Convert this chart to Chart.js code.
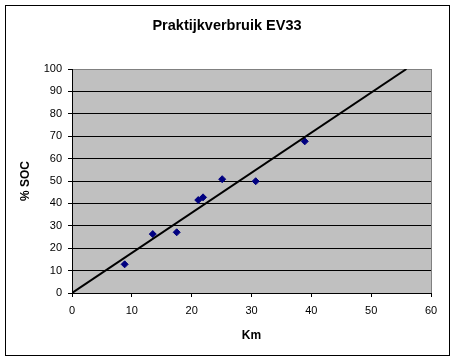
<!DOCTYPE html>
<html><head><meta charset="utf-8">
<script src="https://cdn.jsdelivr.net/npm/chart.js@4/dist/chart.umd.min.js"></script>
<style>html,body{margin:0;padding:0;background:#fff}#wrap{width:455px;height:362px;position:relative}</style>
</head><body><div id="wrap"><canvas id="c" width="455" height="362"></canvas></div>
<script>
const chartTitle = 'Praktijkverbruik EV33';
const xTitle = 'Km';
const yTitle = '% SOC';
const kmValues = [8.8, 13.5, 17.5, 21.1, 21.9, 25.1, 30.7, 38.9];
const socValues = [12.8, 26.3, 27.1, 41.5, 42.7, 50.8, 49.9, 67.7];
const trendKm = [0, 55.9];
const trendSoc = [0, 100];

const points = kmValues.map((x, i) => ({x, y: socValues[i]}));
const trend = trendKm.map((x, i) => ({x, y: trendSoc[i]}));

const framePlugin = {
  id: 'frame',
  beforeDraw(chart) {
    const ctx = chart.ctx, a = chart.chartArea;
    ctx.save();
    ctx.fillStyle = '#fff';
    ctx.fillRect(0, 0, chart.width, chart.height);
    ctx.strokeStyle = '#000';
    ctx.lineWidth = 1;
    ctx.strokeRect(5.5, 5.5, 444, 350);
    ctx.fillStyle = '#C0C0C0';
    ctx.fillRect(a.left, a.top, a.right - a.left, a.bottom - a.top);
    ctx.strokeStyle = '#808080';
    ctx.strokeRect(a.left + 0.5, a.top + 0.5, a.right - a.left, a.bottom - a.top);
    ctx.fillStyle = '#000';
    ctx.font = 'bold 14.5px "Liberation Sans", Arial, sans-serif';
    ctx.textAlign = 'center';
    ctx.textBaseline = 'alphabetic';
    ctx.fillText(chartTitle, 227, 30);
    ctx.restore();
  }
};

new Chart(document.getElementById('c'), {
  type: 'scatter',
  data: {
    datasets: [
      {data: points, backgroundColor: '#000080', borderColor: '#000080', pointStyle: 'rectRot', pointRadius: 3.5, pointBorderWidth: 1, showLine: false, order: 1},
      {data: trend, borderColor: '#000', borderWidth: 2, pointRadius: 0, showLine: true, fill: false, order: 0}
    ]
  },
  options: {
    responsive: false,
    animation: false,
    layout: {padding: {top: 69, left: 6, right: 24, bottom: 8}},
    plugins: {
      legend: {display: false},
      tooltip: {enabled: false},
      title: {display: false}
    },
    scales: {
      x: {
        type: 'linear', min: 0, max: 60,
        afterFit(s) { s.height = 61; },
        ticks: {stepSize: 10, color: '#000', font: {family: 'Liberation Sans, Arial', size: 11}, padding: 7, maxRotation: 0},
        grid: {drawOnChartArea: false, drawTicks: true, tickLength: 4, tickColor: '#000'},
        border: {color: '#000', width: 1},
        title: {display: true, text: xTitle, color: '#000', font: {family: 'Liberation Sans, Arial', size: 12, weight: 'bold'}, padding: {top: 0, bottom: 11}}
      },
      y: {
        min: 0, max: 100,
        afterFit(s) { s.width = 66; },
        ticks: {stepSize: 10, color: '#000', font: {family: 'Liberation Sans, Arial', size: 11}, padding: 6},
        grid: {color: (c) => (c.tick && c.tick.value === 100) ? '#808080' : '#000', drawTicks: true, tickLength: 4, tickColor: '#000'},
        border: {color: '#000', width: 1},
        title: {display: true, text: yTitle, color: '#000', font: {family: 'Liberation Sans, Arial', size: 12, weight: 'bold'}, padding: {top: 12.5, bottom: 0}}
      }
    }
  },
  plugins: [framePlugin]
});
</script></body></html>
